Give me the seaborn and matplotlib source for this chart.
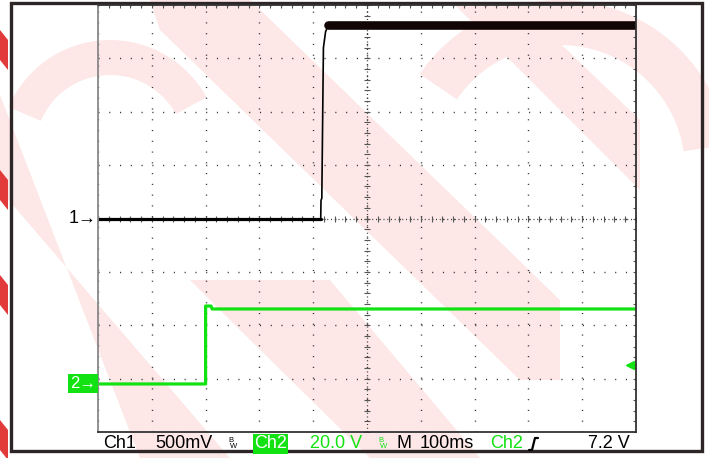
import matplotlib
matplotlib.use("Agg")
import matplotlib.pyplot as plt
import matplotlib.patches as mpatches
import matplotlib.lines as mlines
import seaborn as sns
import numpy as np

# Ch1: time (ms) and voltage (V), 500 mV/div, ground at centre
ch1_time = [0, 414, 414.5, 416, 419, 423, 428, 1000]
ch1_volt = [0, 0, 0.17, 0.19, 1.6, 1.75, 1.81, 1.81]
# Ch2: time (ms) and voltage (V), 20 V/div
ch2_time = [0, 200, 200, 210, 212, 1000]
ch2_volt = [0, 0, 29.2, 29.2, 28.1, 28.1]

ch1_scale, ch1_offset = 0.5, 0.0
ch2_scale, ch2_offset = 20.0, -3.1
trig_level = 7.2

status_labels = ["Ch1", "500mV", "Ch2", "20.0 V", "M", "100ms", "Ch2", "7.2 V"]

green = "#12e212"
pink = "#fde7e7"
W, H = 709, 458

sns.set_style("white")
plt.rcParams["font.family"] = ["Liberation Sans", "DejaVu Sans"]

fig = plt.figure(figsize=(W / 100, H / 100), dpi=100)
fig.patch.set_facecolor("white")


def fx(px):
    return px / W


def fy(py):
    return 1 - py / H


def poly(pts, color=pink):
    fig.patches.append(mpatches.Polygon([(fx(a), fy(b)) for a, b in pts], closed=True,
                                        transform=fig.transFigure, facecolor=color,
                                        edgecolor="none", zorder=0))


def ring(cx, cy, r0, r1, a0, a1):
    th = np.linspace(a0, a1, 60)
    outer = [(cx + r1 * np.cos(t), cy - r1 * np.sin(t)) for t in th]
    inner = [(cx + r0 * np.cos(t), cy - r0 * np.sin(t)) for t in th[::-1]]
    poly(outer + inner)


# faint watermark
poly([(150, 0), (250, 0), (560, 300), (560, 380), (520, 380), (160, 30)])
poly([(0, 95), (0, 190), (230, 458), (140, 458)])
poly([(190, 280), (330, 280), (480, 458), (370, 458), (240, 330)])
poly([(455, 5), (520, 5), (640, 120), (640, 190)])
ring(560, 170, 125, 170, 0.15, np.pi - 0.6)
ring(110, 150, 75, 110, 0.5, np.pi - 0.4)
for y0 in [30, 170, 275, 420]:
    poly([(0, y0), (8, y0 + 10), (8, y0 + 40), (0, y0 + 30)], color="#e23a3a")

# outer frame
fig.patches.append(mpatches.Rectangle((fx(11), fy(451)), fx(702) - fx(11), fy(3) - fy(451),
                                      transform=fig.transFigure, fill=False,
                                      edgecolor="#2e2626", linewidth=2.4, zorder=1))

ax = fig.add_axes([fx(98), fy(432), fx(636) - fx(98), fy(5) - fy(432)])
ax.set_zorder(5)
ax.patch.set_alpha(0)
ax.set_xlim(0, 1000)
ax.set_ylim(-4, 4)
ax.set_xticks(np.arange(0, 1001, 100))
ax.set_xticks(np.arange(0, 1001, 20), minor=True)
ax.set_yticks(np.arange(-4, 4.01, 1))
ax.set_yticks(np.arange(-4, 4.01, 0.2), minor=True)
ax.set_xticklabels([])
ax.set_yticklabels([])
ax.tick_params(which="both", direction="in", top=True, right=True, color="#555555",
               length=2.5, width=0.8)
ax.grid(which="major", linestyle=(0, (0.8, 6.95)), color="#333333", linewidth=1.0)
for s in ax.spines.values():
    s.set_color("#333333")
    s.set_linewidth(1.3)
ax.spines["left"].set_color("#888888")

# centre graticule with small ticks
ax.axhline(0, color="#333333", lw=0.9, ls=(0, (0.8, 2.2)), zorder=1)
ax.axvline(500, color="#333333", lw=0.9, ls=(0, (0.8, 2.2)), zorder=1)
ax.plot(np.arange(0, 1001, 20), np.zeros(51), ls="none", marker="|", ms=4,
        mew=0.8, color="#555555", zorder=1)
ax.plot(np.full(41, 500), np.arange(-4, 4.01, 0.2), ls="none", marker="_", ms=4,
        mew=0.8, color="#555555", zorder=1)

# traces
y1 = np.array(ch1_volt) / ch1_scale + ch1_offset
y2 = np.array(ch2_volt) / ch2_scale + ch2_offset
t1 = np.array(ch1_time)
t2 = np.array(ch2_time)
sns.lineplot(x=t1[:2], y=y1[:2], estimator=None, sort=False, color="black", lw=2.3, ax=ax)
sns.lineplot(x=t1[1:7], y=y1[1:7], estimator=None, sort=False, color="black", lw=1.2, ax=ax)
sns.lineplot(x=t1[6:], y=y1[6:], estimator=None, sort=False, color="#120505", lw=6.2, ax=ax)
sns.lineplot(x=t2, y=y2, estimator=None, sort=False, color=green, lw=2.3, ax=ax)

# channel markers
ax.text(-3, ch1_offset, "1\u2192", ha="right", va="center", fontsize=13,
        color="black", clip_on=False)
ax.text(-3, ch2_offset, "2\u2192", ha="right", va="center", fontsize=12, color="white",
        clip_on=False, bbox=dict(boxstyle="square,pad=0.12", fc=green, ec="none"))
trig_y = trig_level / ch2_scale + ch2_offset
ax.plot([988, 1000], [trig_y, trig_y], color=green, lw=1.5, clip_on=False)
ax.plot([988], [trig_y], marker="<", ms=6, color=green, clip_on=False, ls="none")

# status bar
ty = fy(444)
kw = dict(fontsize=13, va="center", ha="left")
fig.text(fx(103), ty, status_labels[0], color="black", **kw)
fig.text(fx(155), ty, status_labels[1], color="black", **kw)
fig.text(fx(228), fy(440), "B", color="black", fontsize=5.5, ha="left", va="center")
fig.text(fx(230), fy(447), "W", color="black", fontsize=5.5, ha="left", va="center")
fig.text(fx(254), ty, status_labels[2], color="white",
         bbox=dict(boxstyle="square,pad=0.08", fc=green, ec="none"), **kw)
fig.text(fx(310), ty, status_labels[3], color=green, **kw)
fig.text(fx(378), fy(440), "B", color=green, fontsize=5.5, ha="left", va="center")
fig.text(fx(380), fy(447), "W", color=green, fontsize=5.5, ha="left", va="center")
fig.text(fx(397), ty, status_labels[4], color="black", **kw)
fig.text(fx(420), ty, status_labels[5], color="black", **kw)
fig.text(fx(490), ty, status_labels[6], color=green, **kw)
fig.add_artist(mlines.Line2D([fx(529), fx(532), fx(535), fx(538)],
                             [fy(450), fy(450), fy(438), fy(438)],
                             transform=fig.transFigure, color="black", lw=1.6))
fig.text(fx(588), ty, status_labels[7], color="black", **kw)

fig.savefig("out.png", dpi=100)
